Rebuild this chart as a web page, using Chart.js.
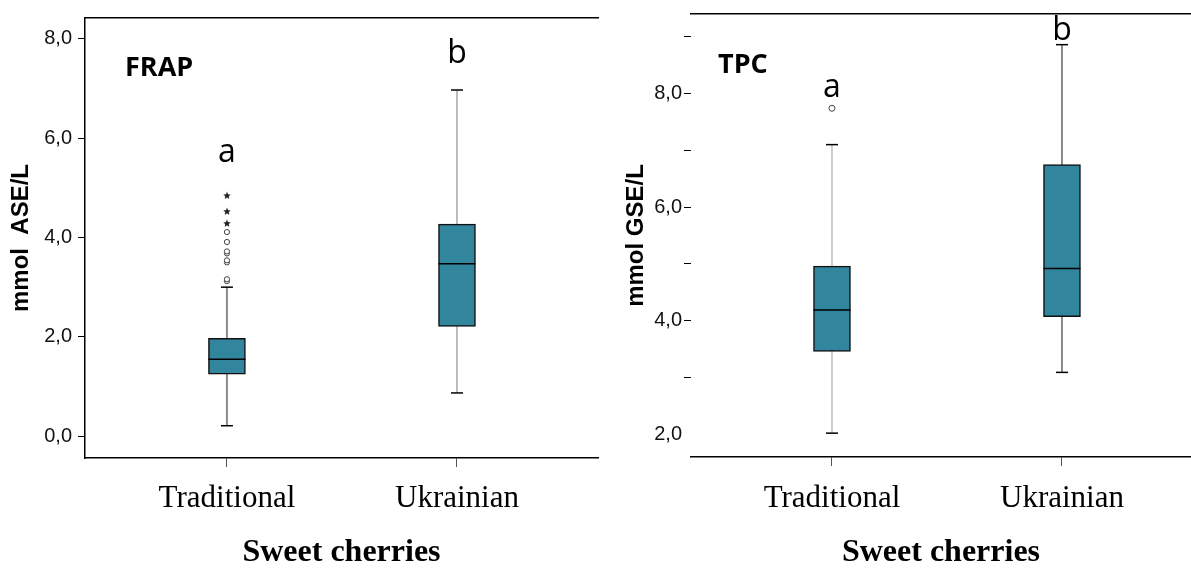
<!DOCTYPE html>
<html>
<head>
<meta charset="utf-8">
<title>Sweet cherries - FRAP and TPC</title>
<script src="https://cdn.jsdelivr.net/npm/chart.js@4.4.1/dist/chart.umd.min.js"></script>
<style>
  body { margin: 0; background: #fff; }
  .panel { position: absolute; top: 0; height: 568px; }
  #wrap_frap { left: 0; width: 600px; }
  #wrap_tpc { left: 600px; width: 591px; }
</style>
</head>
<body>
<div class="panel" id="wrap_frap"><canvas id="chart_frap"></canvas></div>
<div class="panel" id="wrap_tpc"><canvas id="chart_tpc"></canvas></div>
<script>
const categories = ["Traditional", "Ukrainian"];
const letters = ["a", "b"];

// FRAP, mmol ASE/L
const frapMin = [0.21, 0.87];
const frapQ1 = [1.25, 2.21];
const frapMedian = [1.55, 3.47];
const frapQ3 = [1.97, 4.27];
const frapMax = [3.0, 6.97];
const frapOutliers = [[3.12, 3.16, 3.5, 3.54, 3.68, 3.72, 3.91, 4.11], []];
const frapExtremes = [[4.29, 4.53, 4.85], []];
const frapTicks = [0, 2, 4, 6, 8];

// TPC, mmol GSE/L
const tpcMin = [2.02, 3.09];
const tpcQ1 = [3.46, 4.07];
const tpcMedian = [4.19, 4.92];
const tpcQ3 = [4.96, 6.75];
const tpcMax = [7.1, 8.86];
const tpcOutliers = [[7.74], []];
const tpcExtremes = [[], []];
const tpcTicks = [2, 3, 4, 5, 6, 7, 8, 9];

const SERIF = "'Liberation Serif', 'Times New Roman', serif";
const SANS = "'Liberation Sans', Arial, sans-serif";
const TEAL = "#31859C";

function toPoints(groups) {
  const pts = [];
  groups.forEach((vals, i) => vals.forEach(v => pts.push({ x: i, y: v })));
  return pts;
}

function fmt(v) {
  return v.toFixed(1).replace(".", ",");
}

// small filled five-point star used as the extreme-value marker
function starMarker(size) {
  const c = document.createElement("canvas");
  c.width = size;
  c.height = size;
  const g = c.getContext("2d");
  const r = size / 2, cx = size / 2, cy = size / 2 + 0.5;
  g.beginPath();
  for (let k = 0; k < 10; k++) {
    const rad = k % 2 === 0 ? r : r * 0.45;
    const a = -Math.PI / 2 + k * Math.PI / 5;
    g.lineTo(cx + rad * Math.cos(a), cy + rad * Math.sin(a));
  }
  g.closePath();
  g.fillStyle = "#222";
  g.fill();
  return c;
}

// whiskers, caps, medians and the letters, all placed through the chart scales
const boxExtras = {
  id: "boxExtras",
  beforeDatasetsDraw(chart, args, opts) {
    const { ctx, scales: { x, y } } = chart;
    opts.low.forEach((lo, i) => {
      const px = x.getPixelForValue(i);
      const yLo = y.getPixelForValue(lo);
      const yHi = y.getPixelForValue(opts.high[i]);
      ctx.save();
      ctx.strokeStyle = opts.whiskerColor[i];
      ctx.lineWidth = opts.whiskerWidth[i];
      ctx.beginPath();
      ctx.moveTo(px, yLo);
      ctx.lineTo(px, yHi);
      ctx.stroke();
      ctx.strokeStyle = "#000";
      ctx.lineWidth = 1.5;
      [yLo, yHi].forEach(py => {
        ctx.beginPath();
        ctx.moveTo(px - 6, py);
        ctx.lineTo(px + 6, py);
        ctx.stroke();
      });
      ctx.restore();
    });
  },
  afterDatasetsDraw(chart, args, opts) {
    const { ctx, chartArea, scales: { x, y } } = chart;
    const bars = chart.getDatasetMeta(0).data;
    ctx.save();
    ctx.strokeStyle = "#000";
    ctx.lineWidth = 1.5;
    opts.median.forEach((m, i) => {
      const bar = bars[i];
      const py = y.getPixelForValue(m);
      ctx.beginPath();
      ctx.moveTo(bar.x - bar.width / 2, py);
      ctx.lineTo(bar.x + bar.width / 2, py);
      ctx.stroke();
    });
    ctx.fillStyle = "#000";
    ctx.textAlign = "center";
    ctx.textBaseline = "middle";
    ctx.font = "32px 'Open Sans', sans-serif";
    letters.forEach((t, i) => {
      ctx.fillText(t, x.getPixelForValue(i), y.getPixelForValue(opts.letterY[i]));
    });
    ctx.textAlign = "left";
    ctx.font = "bold 27px 'Open Sans', sans-serif";
    ctx.fillText(opts.label, chartArea.left + opts.labelDx, chartArea.top + opts.labelDy);
    ctx.restore();
  },
};

function makeBoxChart(canvasId, s) {
  const ctx = document.getElementById(canvasId).getContext("2d");
  return new Chart(ctx, {
    type: "bar",
    data: {
      datasets: [
        {
          data: categories.map((c, i) => ({ x: i, y: [s.q1[i], s.q3[i]] })),
          backgroundColor: TEAL,
          borderColor: "#111",
          borderWidth: 1.5,
          borderSkipped: false,
          barThickness: 37,
        },
        {
          type: "scatter",
          data: toPoints(s.outliers),
          pointStyle: "circle",
          pointRadius: s.circleRadius,
          pointBorderColor: "#444",
          pointBackgroundColor: "#fff",
          pointBorderWidth: 1,
        },
        {
          type: "scatter",
          data: toPoints(s.extremes),
          pointStyle: starMarker(8),
          pointRadius: 4,
        },
      ],
    },
    plugins: [boxExtras],
    options: {
      responsive: true,
      maintainAspectRatio: false,
      animation: false,
      layout: { padding: s.padding, autoPadding: false },
      plugins: {
        legend: { display: false },
        tooltip: { enabled: false },
        boxExtras: {
          low: s.min,
          high: s.max,
          median: s.median,
          whiskerColor: s.whiskerColor,
          whiskerWidth: s.whiskerWidth,
          letterY: s.letterY,
          label: s.label,
          labelDx: s.labelDx,
          labelDy: s.labelDy,
        },
      },
      scales: {
        x: {
          type: "linear",
          position: "bottom",
          min: s.xMin,
          max: s.xMax,
          offset: false,
          afterBuildTicks: scale => {
            scale.ticks = categories.map((c, i) => ({ value: i }));
          },
          afterFit: scale => {
            scale.height = s.xHeight;
          },
          ticks: {
            callback: v => categories[v],
            color: "#000",
            padding: s.xPad,
            maxRotation: 0,
            font: { family: SERIF, size: 31 },
          },
          grid: {
            offset: false,
            drawOnChartArea: false,
            tickLength: 9,
            tickColor: "#555",
            lineWidth: 1,
          },
          border: { display: true, color: "#000", width: 1.5 },
          title: {
            display: true,
            text: "Sweet cherries",
            color: "#000",
            padding: 0,
            font: { family: SERIF, size: 32, weight: "bold", lineHeight: 0.95 },
          },
        },
        xTop: {
          type: "linear",
          position: "top",
          afterFit: scale => {
            scale.height = 0;
          },
          ticks: { display: false },
          grid: { display: false, drawTicks: false },
          border: { display: true, color: "#000", width: 1.5 },
        },
        y: {
          type: "linear",
          min: s.yMin,
          max: s.yMax,
          afterBuildTicks: scale => {
            scale.ticks = s.ticks.map(v => ({ value: v }));
          },
          afterFit: scale => {
            scale.width = s.yWidth;
          },
          ticks: {
            callback: s.tickLabel,
            color: "#111",
            padding: s.yPad,
            font: { family: SANS, size: 20 },
          },
          grid: {
            drawOnChartArea: false,
            tickLength: 7,
            tickColor: s.tickColor,
            lineWidth: 1,
          },
          border: { display: s.yBorder, color: "#000", width: 1.5 },
          title: {
            display: true,
            text: s.yTitle,
            color: "#000",
            padding: { top: s.yTitlePad, bottom: 0 },
            font: { family: SANS, size: 24, weight: "bold" },
          },
        },
      },
    },
  });
}

var frapChart = makeBoxChart("chart_frap", {
  min: frapMin, q1: frapQ1, median: frapMedian, q3: frapQ3, max: frapMax,
  outliers: frapOutliers, extremes: frapExtremes, ticks: frapTicks,
  circleRadius: 2.6,
  whiskerColor: ["#8a8a8a", "#9a9a9a"],
  whiskerWidth: [2, 1.3],
  letterY: [5.7, 7.7],
  label: "FRAP", labelDx: 40, labelDy: 50,
  padding: { top: 15, right: 2, bottom: 0, left: 0 },
  xMin: -0.617, xMax: 1.613, xHeight: 110, xPad: 13,
  yMin: -0.44, yMax: 8.42, yWidth: 85, yPad: 6, yBorder: true,
  tickLabel: v => fmt(v),
  tickColor: "#000",
  yTitle: "mmol  ASE/L", yTitlePad: 7,
});

var tpcChart = makeBoxChart("chart_tpc", {
  min: tpcMin, q1: tpcQ1, median: tpcMedian, q3: tpcQ3, max: tpcMax,
  outliers: tpcOutliers, extremes: tpcExtremes, ticks: tpcTicks,
  circleRadius: 3,
  whiskerColor: ["#cccccc", "#666666"],
  whiskerWidth: [2, 1.5],
  letterY: [8.1, 9.1],
  label: "TPC", labelDx: 27, labelDy: 51,
  padding: { top: 12, right: 0, bottom: 0, left: 0 },
  xMin: -0.613, xMax: 1.561, xHeight: 111, xPad: 14,
  yMin: 1.6, yMax: 9.4, yWidth: 91, yPad: 2, yBorder: false,
  tickLabel: v => (v % 2 === 0 ? fmt(v) : ""),
  tickColor: c => (c.tick && c.tick.value === 2 ? "rgba(0,0,0,0)" : "#000"),
  yTitle: "mmol GSE/L", yTitlePad: 22,
});
</script>
</body>
</html>
